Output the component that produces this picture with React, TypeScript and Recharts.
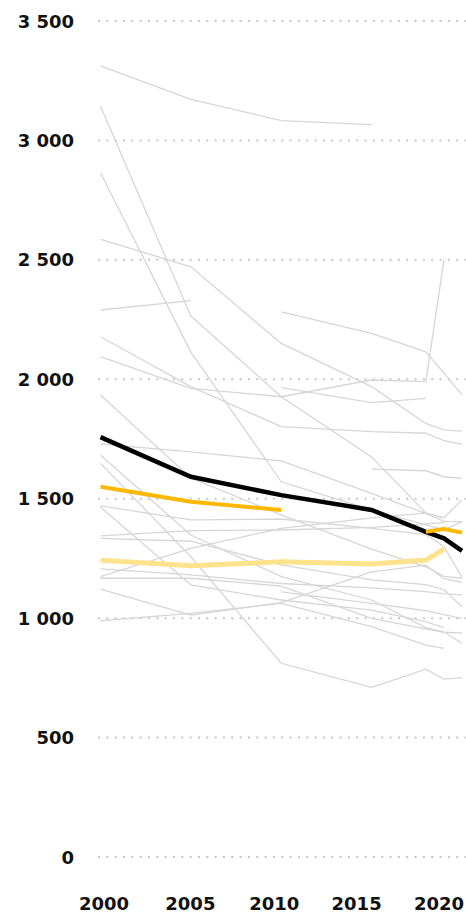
import React from 'react';
import { LineChart, Line, XAxis, YAxis, CartesianGrid } from 'recharts';

const years = [2000, 2005, 2010, 2015, 2018, 2019, 2020];

const highlightBlack = [1758, 1592, 1515, 1453, 1361, 1334, 1282];
const highlightOrange = [1550, 1487, 1453, null, 1362, 1373, 1358];
const highlightYellow = [1242, 1219, 1236, 1227, 1243, 1289, null];

const greyA = [3312, 3172, 3083, 3066, null, null, null];
const greyB = [3144, 2265, 1927, 1675, 1440, 1420, 1495];
const greyC = [2865, 2114, 1571, 1453, 1390, 1370, 1404];
const greyD = [2586, 2471, 2150, 1969, 1815, 1788, 1783];
const greyE = [2290, 2329, null, null, null, null, null];
const greyF = [2178, 1969, 1802, 1781, 1774, 1743, 1728];
const greyG = [2095, 1962, 1927, 1997, 1990, 2499, null];
const greyH = [1934, 1587, 1432, 1289, 1215, 1175, 1167];
const greyI = [1729, 1696, 1658, 1522, 1438, 1405, 1404];
const greyJ = [1683, 1348, 1174, 1076, 960, 943, 895];
const greyK = [1648, 1257, 811, 710, 786, 745, 751];
const greyL = [1470, 1411, 1415, 1376, 1350, 1300, 1171];
const greyM = [1465, 1139, 1076, 1034, 985, 960, null];
const greyN = [1344, 1366, 1369, 1380, 1395, 1400, null];
const greyO = [1334, 1322, 1223, 1160, 1140, 1120, 1048];
const greyP = [1206, 1181, 1145, 1127, 1111, 1103, 1097];
const greyQ = [1174, 1292, 1376, 1420, 1440, 1420, null];
const greyR = [1167, 1167, 1134, 999, 955, 941, 937];
const greyS = [1121, 1013, 1065, 1194, 1222, 1165, 1150];
const greyT = [989, 1020, 1062, 964, 887, 873, null];
const greyU = [null, null, 2282, 2192, 2115, 2026, 1936];
const greyV = [null, null, 1965, 1902, 1920, null, null];
const greyW = [null, null, null, 1624, 1617, 1592, 1585];
const greyX = [null, null, 1110, 1062, 1031, 1015, 999];

const greySeries: Record<string, (number | null)[]> = {
  greyA, greyB, greyC, greyD, greyE, greyF, greyG, greyH, greyI, greyJ, greyK, greyL,
  greyM, greyN, greyO, greyP, greyQ, greyR, greyS, greyT, greyU, greyV, greyW, greyX,
};

const yTicks = [0, 500, 1000, 1500, 2000, 2500, 3000, 3500];
const xTicks = [2000, 2005, 2010, 2015, 2020];
// labels in the original sit a bit left of their data positions towards the right edge
const xLabelShift = [3.5, -0.5, -7, -15, -23];

const data = years.map((year, i) => {
  const row: Record<string, number | null> = {
    year,
    black: highlightBlack[i],
    orange: highlightOrange[i],
    yellow: highlightYellow[i],
  };
  Object.entries(greySeries).forEach(([key, values]) => {
    row[key] = values[i];
  });
  return row;
});

const FONT = '"DejaVu Sans", sans-serif';

const fmt = (v: number) => (v >= 1000 ? `${Math.floor(v / 1000)} ${String(v % 1000).padStart(3, '0')}` : String(v));

const YTick = (props: any) => {
  const { y, payload } = props;
  return (
    <text x={74} y={y + 6.5} textAnchor="end" fontFamily={FONT} fontWeight={700} fontSize={18} fill="#111">
      {fmt(payload.value)}
    </text>
  );
};

const XTick = (props: any) => {
  const { x, y, payload, index } = props;
  return (
    <text x={x + (xLabelShift[index] ?? 0)} y={y + 53} textAnchor="middle" fontFamily={FONT} fontWeight={700} fontSize={18} fill="#111">
      {payload.value}
    </text>
  );
};

export default function App() {
  return (
    <div style={{ position: 'absolute', left: 0, top: 0, width: 466, height: 914 }}>
      <LineChart width={466} height={914} data={data} margin={{ top: 21, right: 0, bottom: 0, left: 0 }}>
        <CartesianGrid vertical={false} stroke="#c6c6c6" strokeWidth={2} strokeDasharray="2 6.33" />
        <XAxis
          dataKey="year"
          type="number"
          domain={[2000, 2020]}
          ticks={xTicks}
          padding={{ left: 2.5, right: 4 }}
          axisLine={false}
          tickLine={false}
          tickSize={0}
          tickMargin={0}
          height={57}
          tick={<XTick />}
          interval={0}
        />
        <YAxis
          domain={[0, 3500]}
          ticks={yTicks}
          width={98}
          axisLine={false}
          tickLine={false}
          tick={<YTick />}
          interval={0}
        />
        {Object.keys(greySeries).map((key) => (
          <Line
            key={key}
            dataKey={key}
            stroke="#d6d6d6"
            strokeWidth={1.3}
            dot={false}
            activeDot={false}
            isAnimationActive={false}
          />
        ))}
        <Line dataKey="yellow" stroke="#ffe38c" strokeWidth={5} dot={false} activeDot={false} isAnimationActive={false} />
        <Line dataKey="black" stroke="#000000" strokeWidth={4.5} dot={false} activeDot={false} isAnimationActive={false} />
        <Line dataKey="orange" stroke="#ffb800" strokeWidth={4} dot={false} activeDot={false} isAnimationActive={false} />
      </LineChart>
    </div>
  );
}
